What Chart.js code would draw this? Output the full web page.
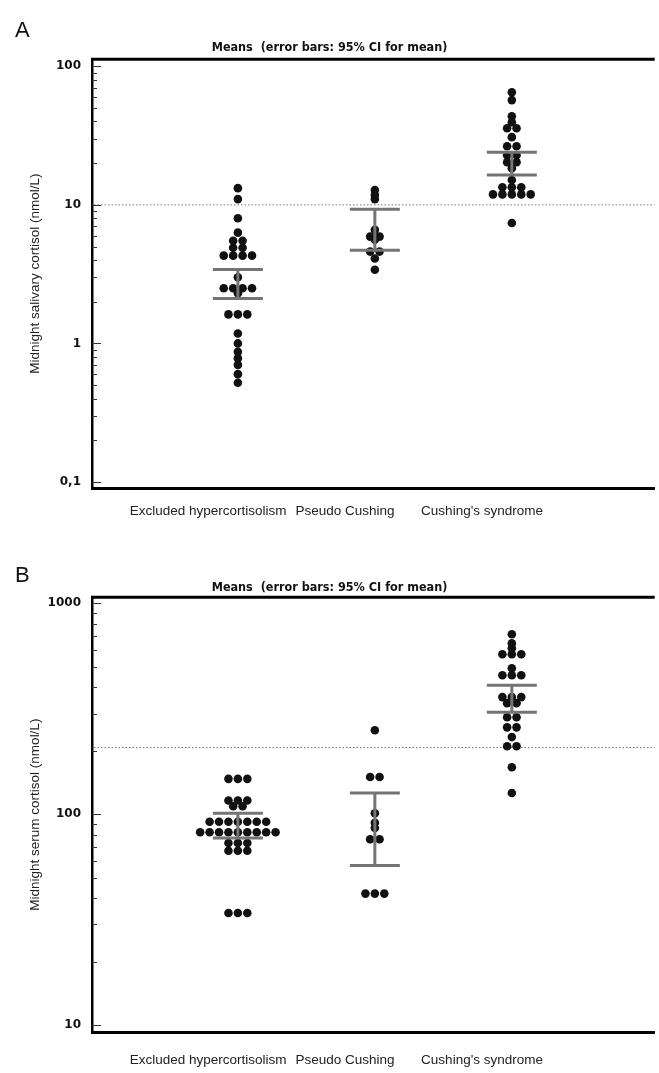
<!DOCTYPE html>
<html>
<head>
<meta charset="utf-8">
<script src="https://cdn.jsdelivr.net/npm/chart.js@4.4.1/dist/chart.umd.min.js"></script>
<style>
html, body { margin: 0; padding: 0; background: #fff; }
#wrap { position: relative; width: 659px; height: 1073px; overflow: hidden; }
.panel { position: absolute; left: 0; width: 659px; }
.letter { position: absolute; left: 15px; font: 22px/22px 'Liberation Sans', Arial, sans-serif; color: #111; }
</style>
</head>
<body>
<div id="wrap">
  <div class="panel" style="top:0;height:536px"><canvas id="chartA" width="659" height="536"></canvas></div>
  <div class="panel" style="top:536px;height:537px"><canvas id="chartB" width="659" height="537"></canvas></div>
  <div class="letter" style="top:19px">A</div>
  <div class="letter" style="top:564px">B</div>
</div>
<script>
// categories
const groups = ['Excluded hypercortisolism', 'Pseudo Cushing', "Cushing's syndrome"];
const plotTitle = 'Means  (error bars: 95% CI for mean)';

// A - midnight salivary cortisol (nmol/L)
const salivaryExcluded = [13.2, 11, 8.0, 6.3, 5.5, 5.5, 4.9, 4.9, 4.3, 4.3, 4.3, 4.3, 3.0, 2.5, 2.5, 2.5, 2.5, 2.3,
  1.62, 1.62, 1.62, 1.18, 1.0, 0.87, 0.78, 0.70, 0.60, 0.52];
const salivaryPseudo = [12.8, 11.8, 11.0, 6.6, 5.9, 5.9, 5.6, 4.6, 4.6, 4.1, 3.4];
const salivaryCushing = [65, 57, 43.6, 39.5, 35.7, 35.7, 30.8, 26.5, 26.5, 22.8, 22.8, 20.3, 20.3, 18.4, 15.1,
  13.4, 13.4, 13.4, 11.9, 11.9, 11.9, 11.9, 11.9, 7.4];
const salivaryCiLow = [2.11, 4.7, 16.4];
const salivaryCiHigh = [3.42, 9.3, 24.0];
const salivaryCutoff = 10;
const salivaryTicks = [0.1, 1, 10, 100];
const salivaryTickLabels = ['0,1', '1', '10', '100'];

// B - midnight serum cortisol (nmol/L)
const serumExcluded = [147, 147, 147, 116, 116, 116, 109, 109, 92, 92, 92, 92, 92, 92, 92,
  82, 82, 82, 82, 82, 82, 82, 82, 82, 73, 73, 73, 67, 67, 67, 34, 34, 34];
const serumPseudo = [250, 150, 150, 101, 91, 86, 76, 76, 42, 42, 42];
const serumCushing = [713, 646, 612, 573, 573, 573, 492, 456, 456, 456, 359, 359, 359, 336, 336,
  288, 288, 258, 258, 232, 210, 210, 167, 126];
const serumCiLow = [77, 57, 304];
const serumCiHigh = [101, 126, 409];
const serumCutoff = 207;
const serumTicks = [10, 100, 1000];
const serumTickLabels = ['10', '100', '1000'];

const PX_PER_UNIT = 138;   // x scale: pixels between two groups
const LABEL_SHIFT = -30;   // category labels sit a little left of the dot columns

// identical values sit side by side in one row
function swarm(values, g, step) {
  const counts = {}, seen = {};
  values.forEach(v => { counts[v] = (counts[v] || 0) + 1; });
  return values.map(v => {
    const i = seen[v] = (seen[v] === undefined ? 0 : seen[v] + 1);
    return { x: g + (i - (counts[v] - 1) / 2) * step, y: v };
  });
}

function minorTicks(majors) {
  const out = [];
  majors.forEach((m, i) => {
    if (i === majors.length - 1) { out.push(m); return; }
    for (let k = 1; k < 10; k++) out.push(m * k);
  });
  return out;
}

const extras = {
  id: 'extras',
  beforeDatasetsDraw(chart, args, o) {
    const { ctx, chartArea: a, scales: { y } } = chart;
    const yy = y.getPixelForValue(o.cutoff);
    ctx.save();
    ctx.strokeStyle = '#777';
    ctx.lineWidth = 1;
    ctx.setLineDash([1.5, 2]);
    ctx.beginPath();
    ctx.moveTo(a.left + 2, yy);
    ctx.lineTo(a.right, yy);
    ctx.stroke();
    ctx.restore();
  },
  afterDatasetsDraw(chart, args, o) {
    const { ctx, scales: { x, y } } = chart;
    ctx.save();
    ctx.strokeStyle = '#747474';
    ctx.lineWidth = 3;
    o.low.forEach((lo, i) => {
      const cx = x.getPixelForValue(i);
      const y1 = y.getPixelForValue(lo), y2 = y.getPixelForValue(o.high[i]);
      ctx.beginPath();
      ctx.moveTo(cx, y1); ctx.lineTo(cx, y2);
      ctx.moveTo(cx - 25, y1); ctx.lineTo(cx + 25, y1);
      ctx.moveTo(cx - 25, y2); ctx.lineTo(cx + 25, y2);
      ctx.stroke();
    });
    ctx.restore();
  },
  afterDraw(chart, args, o) {
    const { ctx, chartArea: a, scales: { y } } = chart;
    ctx.save();
    // frame top
    ctx.strokeStyle = '#000';
    ctx.lineWidth = 3;
    ctx.beginPath();
    ctx.moveTo(a.left - 1, a.top);
    ctx.lineTo(a.right, a.top);
    ctx.stroke();
    // inward ticks
    ctx.strokeStyle = '#333';
    ctx.lineWidth = 1;
    y.ticks.forEach(t => {
      const py = Math.round(y.getPixelForValue(t.value)) + 0.5;
      const len = t.major ? 9 : 5;
      ctx.beginPath();
      ctx.moveTo(a.left, py);
      ctx.lineTo(a.left + len, py);
      ctx.stroke();
    });
    ctx.restore();
  }
};

function makeChart(id, o) {
  const step = 9.5 / PX_PER_UNIT;
  const shift = LABEL_SHIFT / PX_PER_UNIT;
  const data = o.series.flatMap((vals, g) => swarm(vals, g, step));
  const all = minorTicks(o.majors);
  const isMajor = v => o.majors.findIndex(m => Math.abs(Math.log10(v) - Math.log10(m)) < 1e-6);
  return new Chart(document.getElementById(id), {
    type: 'scatter',
    data: {
      datasets: [{
        data: data,
        pointRadius: 4.3,
        pointHoverRadius: 4.3,
        pointBackgroundColor: '#111',
        pointBorderWidth: 0,
        showLine: false
      }]
    },
    options: {
      responsive: false,
      animation: false,
      events: [],
      layout: { padding: 0 },
      plugins: {
        legend: { display: false },
        tooltip: { enabled: false },
        title: {
          display: true,
          text: plotTitle,
          color: '#111',
          font: { family: "'DejaVu Sans Condensed', 'DejaVu Sans', sans-serif", size: 12.5, weight: 'bold', lineHeight: 1.2 },
          padding: { top: o.titleTop, bottom: o.titleBottom }
        },
        extras: { cutoff: o.cutoff, low: o.ciLow, high: o.ciHigh }
      },
      scales: {
        x: {
          type: 'linear',
          min: -1.065,
          max: 3.043,
          afterFit: s => { s.height = o.xHeight; },
          afterBuildTicks: s => { s.ticks = groups.map((_, i) => ({ value: i + shift })); },
          grid: { display: false, drawTicks: false },
          border: { display: true, color: '#000', width: 3 },
          ticks: {
            callback: (v, i) => groups[i],
            color: '#222',
            font: { family: "'Liberation Sans', Arial, sans-serif", size: 13.5 },
            padding: o.xPad,
            maxRotation: 0,
            autoSkip: false
          }
        },
        y: {
          type: 'logarithmic',
          min: o.min,
          max: o.max,
          afterFit: s => { s.width = 92; },
          afterBuildTicks: s => { s.ticks = all.map(v => ({ value: v, major: isMajor(v) >= 0 })); },
          grid: { display: false, drawTicks: false },
          border: { display: true, color: '#000', width: 2.5 },
          ticks: {
            callback: v => { const i = isMajor(v); return i >= 0 ? o.tickLabels[i] : ''; },
            color: '#111',
            font: { family: "'DejaVu Sans', Verdana, sans-serif", size: 12, weight: 'bold' },
            padding: 11,
            autoSkip: false
          },
          title: {
            display: true,
            text: o.yTitle,
            color: '#222',
            font: { family: "'Liberation Sans', Arial, sans-serif", size: 13.5 },
            padding: { top: 27, bottom: 0 }
          }
        }
      }
    },
    plugins: [extras]
  });
}

makeChart('chartA', {
  series: [salivaryExcluded, salivaryPseudo, salivaryCushing],
  ciLow: salivaryCiLow, ciHigh: salivaryCiHigh, cutoff: salivaryCutoff,
  majors: salivaryTicks, tickLabels: salivaryTickLabels,
  min: 0.0905, max: 112.3,
  yTitle: 'Midnight salivary cortisol (nmol/L)',
  titleTop: 39.8, titleBottom: 4.5, xHeight: 48, xPad: 15
});

makeChart('chartB', {
  series: [serumExcluded, serumPseudo, serumCushing],
  ciLow: serumCiLow, ciHigh: serumCiHigh, cutoff: serumCutoff,
  majors: serumTicks, tickLabels: serumTickLabels,
  min: 9.265, max: 1067.5,
  yTitle: 'Midnight serum cortisol (nmol/L)',
  titleTop: 43.8, titleBottom: 2.5, xHeight: 41, xPad: 20
});
</script>
</body>
</html>
